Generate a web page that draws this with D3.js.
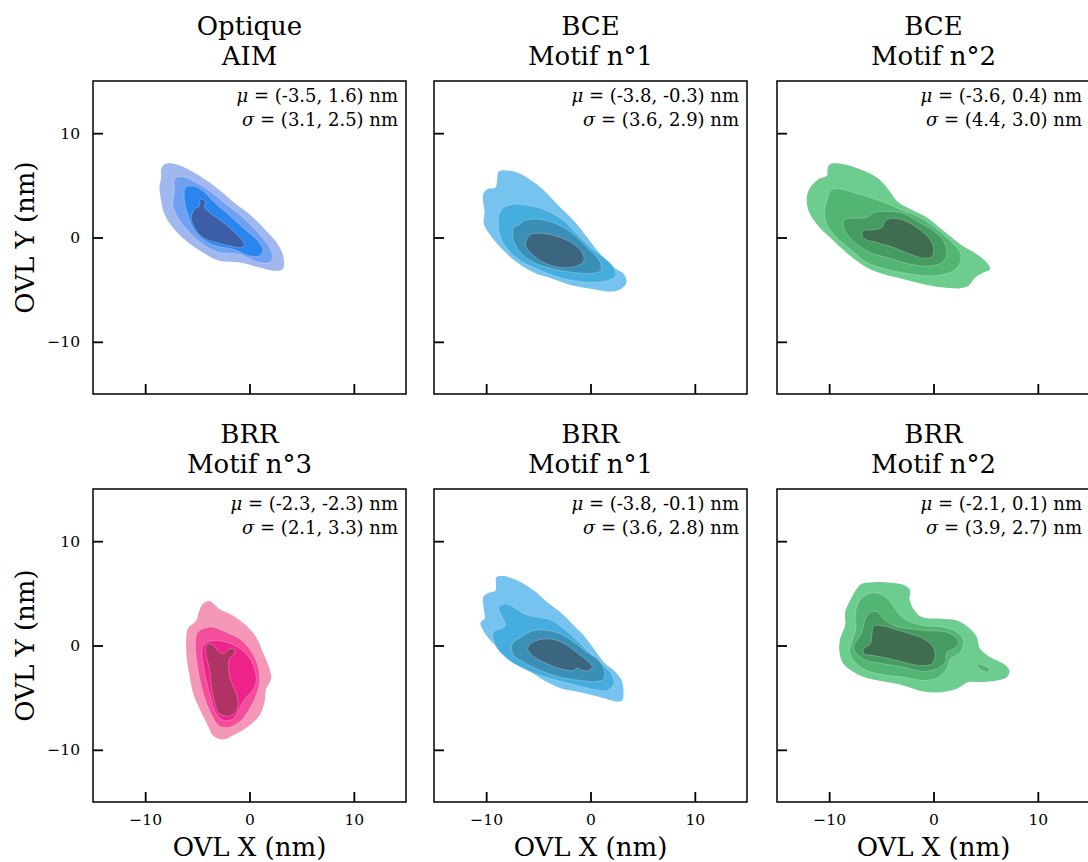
<!DOCTYPE html>
<html>
<head>
<meta charset="utf-8">
<title>OVL KDE</title>
<script src="https://d3js.org/d3.v7.min.js"></script>
<style>
  body { margin: 0; background: #fff; }
  text { font-family: "DejaVu Serif", serif; fill: #000; }
</style>
</head>
<body>
<script>

// titres des panneaux (2 lignes)
var titles = [["Optique", "AIM"], ["BCE", "Motif n°1"], ["BCE", "Motif n°2"],
              ["BRR", "Motif n°3"], ["BRR", "Motif n°1"], ["BRR", "Motif n°2"]];
var means  = ["(-3.5, 1.6)", "(-3.8, -0.3)", "(-3.6, 0.4)", "(-2.3, -2.3)", "(-3.8, -0.1)", "(-2.1, 0.1)"];
var sigmas = ["(3.1, 2.5)", "(3.6, 2.9)", "(4.4, 3.0)", "(2.1, 3.3)", "(3.6, 2.8)", "(3.9, 2.7)"];
var axisTicks = [-10, 0, 10];
var axisRange = [-15, 15];

// couleurs des niveaux (du plus clair au plus foncé)
var bluePal  = ["#a1b8ef", "#70a0f2", "#2a86ee", "#3b5ea6"];
var skyPal   = ["#75c3ee", "#45aedf", "#3a8fb6", "#3c6680"];
var greenPal = ["#6dcd8e", "#52b574", "#459c61", "#3e6e4f"];
var pinkPal  = ["#f598b8", "#f44d9c", "#ee2389", "#b03366"];

// contours KDE, en nm : [niveau][anneau][point]
var aimLevels = [
  [[[-8.47,6.55],[-8.15,7.03],[-7.35,7.09],[-6.39,6.77],[-4.79,5.91],[-3.19,4.79],[-1.28,3.19],[0,2.24],[1.6,0.64],[2.72,-0.64],[3.26,-1.92],[3.19,-3.04],[2.4,-3.19],[0.96,-2.88],[-0.96,-2.4],[-2.88,-2.24],[-4.47,-1.44],[-6.07,-0.32],[-7.35,0.96],[-8.15,2.24],[-8.47,3.51],[-8.63,4.79],[-8.47,5.75]]],
  [[[-7.19,5.59],[-6.55,5.85],[-5.43,5.43],[-3.83,4.47],[-2.24,3.19],[-0.64,1.92],[0.96,0.32],[1.92,-0.96],[2.24,-1.92],[1.92,-2.4],[0.96,-2.4],[-0.96,-1.6],[-2.88,-1.44],[-4.47,-0.64],[-5.75,0.48],[-6.87,1.92],[-7.35,3.19],[-7.19,4.47]]],
  [[[-6.13,4.79],[-5.43,4.95],[-4.47,4.47],[-3.51,3.51],[-2.24,2.4],[-0.64,0.96],[0.8,-0.32],[1.28,-1.28],[0.96,-1.76],[0,-1.76],[-1.6,-1.12],[-3.19,-0.8],[-4.47,-0.16],[-5.43,0.96],[-5.91,2.24],[-6.23,3.51]]],
  [[[-4.73,3.67],[-4.22,3.45],[-4.31,2.88],[-3.83,2.4],[-2.72,1.6],[-1.6,0.64],[-0.48,-0.64],[-0.8,-0.96],[-1.92,-0.8],[-3.19,-0.48],[-4.47,0],[-5.27,0.96],[-5.59,1.92],[-5.27,2.72],[-4.79,3.04]]]
];
var bce1Levels = [
  [[[-8.79,6.33],[-7.67,6.39],[-6.39,5.91],[-4.79,4.79],[-3.19,3.19],[-1.6,1.6],[-0.32,0],[0.96,-1.6],[2.24,-2.88],[3.19,-3.51],[3.45,-4.31],[2.88,-4.95],[1.92,-5.18],[0.32,-4.95],[-1.6,-4.63],[-3.51,-3.99],[-5.43,-3.35],[-7.03,-2.4],[-8.31,-1.28],[-9.42,0],[-10.22,1.28],[-10.16,2.4],[-10.29,4.15],[-9.9,4.63],[-9.11,4.79],[-8.95,5.43]]],
  [[[-8.31,2.88],[-7.35,3.19],[-5.75,3.04],[-4.15,2.56],[-2.56,1.6],[-1.28,0.32],[0,-0.96],[1.28,-1.92],[2.24,-2.88],[2.4,-3.67],[1.6,-4.15],[0,-4.31],[-1.6,-4.15],[-3.51,-3.67],[-5.43,-2.88],[-6.71,-2.24],[-7.83,-1.28],[-8.63,0],[-8.85,1.6],[-8.69,2.4]]],
  [[[-6.39,1.6],[-5.59,1.76],[-4.15,1.6],[-2.56,0.96],[-1.28,0],[0,-1.28],[0.96,-2.4],[0.96,-3.19],[0,-3.45],[-1.6,-3.35],[-3.51,-3.04],[-5.43,-2.4],[-6.71,-1.44],[-7.41,-0.16],[-7.35,0.96],[-6.87,1.21]]],
  [[[-5.75,0.26],[-4.47,0.38],[-2.88,0],[-1.6,-0.64],[-0.8,-1.44],[-0.64,-2.24],[-1.28,-2.72],[-2.88,-2.88],[-4.47,-2.4],[-5.59,-1.6],[-6.23,-0.64]]]
];
var bce2Levels = [
  [[[-10.06,6.87],[-9.74,7.09],[-8.63,7.03],[-7.03,6.55],[-5.43,5.75],[-4.47,4.79],[-3.51,3.51],[-2.24,2.72],[-0.64,1.92],[0.96,0.64],[2.56,-0.64],[4.15,-1.6],[5.11,-2.4],[5.43,-3.04],[4.79,-3.35],[3.99,-3.83],[3.35,-4.63],[2.56,-4.86],[0.96,-4.79],[-0.96,-4.47],[-2.88,-3.99],[-4.79,-3.51],[-6.39,-2.88],[-7.99,-1.76],[-9.58,-0.32],[-11.18,1.28],[-11.98,2.56],[-12.14,3.83],[-11.82,4.79],[-11.02,5.59],[-10.22,5.91],[-10.16,6.55]]],
  [[[-9.9,4.47],[-9.27,4.7],[-7.67,4.31],[-6.07,3.83],[-4.47,3.26],[-2.88,2.56],[-1.28,1.92],[0.32,0.8],[1.92,-0.64],[2.62,-1.6],[2.4,-2.72],[1.6,-3.35],[0,-3.67],[-2.24,-3.51],[-4.47,-3.04],[-6.39,-2.4],[-7.99,-1.12],[-9.27,0],[-10.22,1.28],[-10.45,2.56],[-10.22,3.51]]],
  [[[-8.47,1.76],[-7.35,1.85],[-6.39,1.92],[-5.75,2.4],[-4.79,2.49],[-3.19,2.4],[-1.6,1.6],[0,0.64],[0.96,-0.32],[1.28,-1.6],[0.8,-2.4],[-0.32,-2.72],[-2.24,-2.56],[-4.47,-1.92],[-6.07,-1.44],[-7.35,-0.64],[-8.31,0.32],[-8.69,1.28]]],
  [[[-6.71,0.64],[-5.75,0.73],[-4.95,0.96],[-4.63,1.6],[-3.99,1.85],[-2.88,1.66],[-1.6,0.96],[-0.48,0],[0,-0.96],[-0.16,-1.85],[-0.96,-1.98],[-2.24,-1.6],[-3.83,-0.96],[-5.43,-0.48],[-6.55,-0.16],[-6.87,0.32]]]
];
var brr3Levels = [
  [[[-4.47,3.99],[-3.83,4.25],[-2.88,3.51],[-1.6,2.88],[-0.32,1.92],[0.64,0.8],[1.28,-0.64],[1.92,-2.24],[2.08,-3.19],[1.6,-4.15],[1.44,-5.43],[0.96,-6.71],[0,-7.67],[-1.28,-8.47],[-2.56,-9.01],[-3.51,-8.63],[-3.99,-7.67],[-4.79,-6.07],[-5.43,-4.47],[-5.75,-2.88],[-6.01,-1.28],[-6.07,0.64],[-5.91,1.6],[-5.11,2.4],[-4.86,3.19]]],
  [[[-4.79,1.44],[-3.51,1.76],[-2.24,1.28],[-0.96,0.64],[0,-0.32],[0.8,-1.92],[0.96,-3.51],[0.64,-4.79],[0,-6.07],[-0.8,-7.19],[-1.92,-7.83],[-2.88,-7.73],[-3.51,-6.87],[-4.15,-5.43],[-4.63,-3.83],[-4.95,-2.24],[-5.18,-0.32],[-5.11,0.96]]],
  [[[-4.15,0.26],[-3.19,0.48],[-2.24,0.32],[-1.12,-0.16],[-0.16,-0.96],[0.48,-2.24],[0.64,-3.51],[0.16,-4.47],[-0.48,-5.11],[-0.96,-6.07],[-1.6,-7.03],[-2.4,-7.19],[-3.19,-6.55],[-3.67,-5.11],[-4.09,-3.51],[-4.47,-1.6],[-4.54,-0.32]]],
  [[[-4.15,0],[-3.67,0.16],[-3.04,-0.48],[-2.56,-0.8],[-1.92,-0.32],[-1.44,-0.32],[-1.44,-0.8],[-1.92,-1.28],[-1.92,-2.88],[-1.6,-3.83],[-1.12,-5.11],[-1.21,-6.23],[-1.92,-6.77],[-2.88,-6.55],[-3.35,-5.43],[-3.67,-3.83],[-3.83,-2.24],[-4.15,-0.96]]]
];
var brr1Levels = [
  [[[-9.01,6.55],[-8.31,6.65],[-7.03,6.23],[-5.43,5.27],[-4.15,4.15],[-2.88,3.19],[-1.6,1.92],[-0.64,0.96],[0.32,-0.32],[1.28,-1.6],[2.4,-2.56],[3.04,-3.51],[3.04,-5.27],[2.56,-5.37],[0.96,-4.95],[-0.96,-4.47],[-2.88,-4.09],[-4.15,-3.51],[-5.43,-2.72],[-6.71,-1.92],[-7.99,-0.96],[-9.42,0.32],[-10.29,1.44],[-10.54,2.24],[-10.16,2.56],[-10.22,3.51],[-10.29,4.63],[-9.74,5.05],[-9.11,5.27]]],
  [[[-8.79,3.67],[-8.15,3.99],[-7.35,3.67],[-6.39,3.04],[-5.11,2.72],[-3.83,2.49],[-2.56,1.6],[-1.28,0.48],[0,-0.8],[1.28,-1.92],[2.08,-2.88],[2.24,-3.67],[1.6,-4.31],[0.32,-4.22],[-1.28,-3.83],[-3.19,-3.35],[-4.79,-2.88],[-6.39,-2.24],[-7.99,-1.28],[-9.11,0],[-9.33,1.28],[-8.63,1.6],[-8.15,1.92],[-8.47,2.72]]],
  [[[-7.35,0.32],[-6.39,0.96],[-5.43,1.44],[-4.15,1.44],[-2.88,1.12],[-1.6,0.32],[-0.32,-0.64],[0.64,-1.28],[1.28,-2.24],[1.28,-3.19],[0.64,-3.45],[-0.96,-3.35],[-2.88,-3.04],[-4.79,-2.4],[-6.39,-1.6],[-7.35,-0.96],[-7.57,-0.16]]],
  [[[-5.75,0.16],[-4.79,0.58],[-3.51,0.58],[-2.24,0],[-0.96,-0.96],[-0.16,-1.6],[0.16,-2.08],[-0.16,-2.4],[-0.96,-2.33],[-1.28,-2.14],[-1.6,-2.4],[-2.88,-2.24],[-4.47,-1.6],[-5.59,-0.96],[-6.01,-0.32]]]
];
var brr2Levels = [
  [[[-6.87,5.91],[-5.75,6.07],[-3.99,6.01],[-2.72,5.75],[-2.24,5.27],[-2.3,4.47],[-1.92,3.51],[-1.12,2.72],[0.64,2.56],[2.24,2.4],[3.51,1.6],[4.15,0.8],[4.47,-0.32],[5.43,-1.12],[6.71,-1.76],[7.28,-2.4],[7.03,-3.04],[6.07,-3.35],[4.47,-3.51],[3.35,-3.51],[2.24,-4.15],[0.64,-4.47],[-0.96,-4.41],[-2.88,-3.83],[-4.47,-3.51],[-6.07,-3.19],[-7.35,-2.72],[-8.63,-1.76],[-9.01,-0.64],[-8.95,0.64],[-8.47,1.92],[-8.47,3.19],[-7.99,4.31],[-7.35,5.43]]],
  [[[-6.55,4.79],[-5.75,5.05],[-4.79,4.79],[-3.99,3.99],[-3.35,3.04],[-2.56,2.4],[-0.96,1.92],[0.96,1.76],[2.24,1.28],[2.88,0.48],[2.56,-0.64],[1.6,-1.28],[1.28,-2.24],[0.32,-3.13],[-0.96,-3.35],[-2.88,-3.04],[-4.79,-2.81],[-6.39,-2.4],[-7.51,-1.6],[-8.05,-0.64],[-7.83,0.32],[-7.44,1.6],[-7.51,2.88],[-7.19,4.15]],
   [[4.15,-1.76],[4.95,-1.98],[5.43,-2.33],[5.11,-2.56],[4.41,-2.24]]],
  [[[-6.23,3.04],[-5.43,3.26],[-4.79,2.56],[-3.83,1.92],[-2.24,1.6],[-0.64,1.44],[0.96,1.34],[1.92,0.96],[2.4,0.32],[1.92,-0.32],[1.28,-0.64],[1.12,-1.6],[0.32,-2.24],[-0.96,-2.49],[-2.88,-2.08],[-4.79,-1.76],[-6.39,-1.44],[-7.35,-0.8],[-7.67,-0.16],[-7.35,0.48],[-6.87,1.28],[-6.65,2.24]]],
  [[[-5.75,1.85],[-5.11,1.92],[-3.83,1.6],[-2.24,1.12],[-0.96,0.64],[-0.16,0],[0.16,-0.8],[-0.16,-1.76],[-1.28,-1.92],[-2.88,-1.6],[-4.47,-1.21],[-5.75,-0.96],[-6.65,-0.8],[-6.71,-0.32],[-6.07,0.16],[-5.91,0.96]]]
];

var panelLevels = [aimLevels, bce1Levels, bce2Levels, brr3Levels, brr1Levels, brr2Levels];
var panelColors = [bluePal, skyPal, greenPal, pinkPal, skyPal, greenPal];

// mise en page
var W = 1088, H = 862;
var panelSize = 313;
var colLeft = [93, 434, 777];
var rowTop = [81, 489];
var bigFont = "26px", statFont = "18px", tickFont = "15.5px";

var svg = d3.select("body").append("svg")
    .attr("width", W).attr("height", H)
    .style("background", "#fff");

var x = d3.scaleLinear().domain(axisRange).range([0, panelSize]);
var y = d3.scaleLinear().domain(axisRange).range([panelSize, 0]);

var ringLine = d3.line()
    .x(function (d) { return x(d[0]); })
    .y(function (d) { return y(d[1]); })
    .curve(d3.curveCatmullRomClosed.alpha(0.5));

panelLevels.forEach(function (levels, i) {
  var col = i % 3, row = Math.floor(i / 3);
  var g = svg.append("g").attr("transform", "translate(" + colLeft[col] + "," + rowTop[row] + ")");

  // contours remplis, du niveau externe au niveau interne
  levels.forEach(function (rings, k) {
    g.selectAll(null).data(rings).enter().append("path")
      .attr("d", ringLine)
      .attr("fill", panelColors[i][k])
      .attr("stroke", k > 0 ? "rgba(255,255,255,0.35)" : "none")
      .attr("stroke-width", 0.7);
  });

  // axes : ticks vers l'intérieur
  var ax = g.append("g").attr("transform", "translate(0," + panelSize + ")")
    .call(d3.axisBottom(x).tickValues(axisTicks).tickSizeInner(-10).tickSizeOuter(0).tickPadding(12)
      .tickFormat(row === 1 ? d3.format("d") : function () { return ""; }));
  var ay = g.append("g")
    .call(d3.axisLeft(y).tickValues(axisTicks).tickSizeInner(-10).tickSizeOuter(0).tickPadding(13)
      .tickFormat(col === 0 ? d3.format("d") : function () { return ""; }));
  [ax, ay].forEach(function (a) {
    a.select(".domain").remove();
    a.selectAll("line").attr("stroke", "#000").attr("stroke-width", 1.8);
    a.selectAll("text").style("font-family", "DejaVu Serif").style("font-size", tickFont).attr("fill", "#000");
  });

  g.append("rect")
    .attr("width", panelSize).attr("height", panelSize)
    .attr("fill", "none").attr("stroke", "#000").attr("stroke-width", 1.5);

  // titre
  g.append("text").attr("x", panelSize / 2).attr("y", -46)
    .attr("text-anchor", "middle").style("font-size", bigFont).text(titles[i][0]);
  g.append("text").attr("x", panelSize / 2).attr("y", -16)
    .attr("text-anchor", "middle").style("font-size", bigFont).text(titles[i][1]);

  // statistiques
  var t1 = g.append("text").attr("x", panelSize - 8).attr("y", 21)
    .attr("text-anchor", "end").style("font-size", statFont);
  t1.append("tspan").style("font-style", "italic").text("μ");
  t1.append("tspan").text(" = " + means[i] + " nm");
  var t2 = g.append("text").attr("x", panelSize - 8).attr("y", 45)
    .attr("text-anchor", "end").style("font-size", statFont);
  t2.append("tspan").style("font-style", "italic").text("σ");
  t2.append("tspan").text(" = " + sigmas[i] + " nm");

  if (row === 1) {
    g.append("text").attr("x", panelSize / 2).attr("y", panelSize + 54)
      .attr("text-anchor", "middle").style("font-size", bigFont).text("OVL X (nm)");
  }
  if (col === 0) {
    g.append("text")
      .attr("transform", "translate(-59," + (panelSize / 2) + ") rotate(-90)")
      .attr("text-anchor", "middle").style("font-size", bigFont).text("OVL Y (nm)");
  }
});

</script>
</body>
</html>
